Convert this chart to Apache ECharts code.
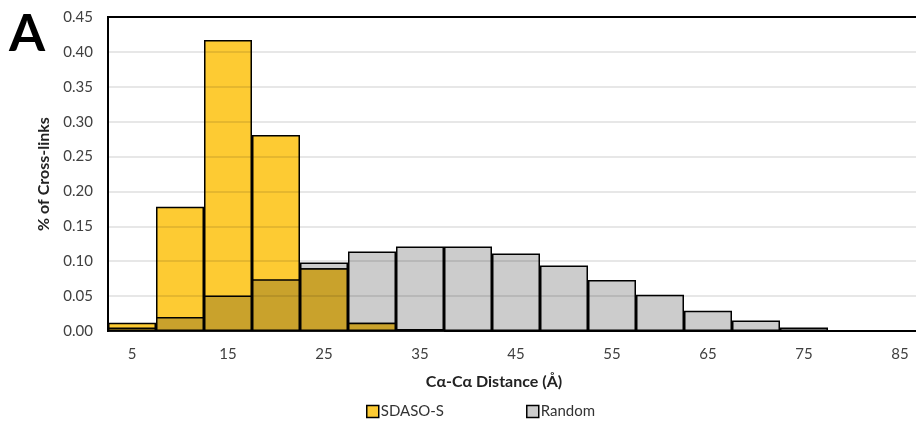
<!DOCTYPE html>
<html><head><meta charset="utf-8">
<script src="https://cdn.jsdelivr.net/npm/echarts@6/dist/echarts.min.js"></script>
<style>html,body{margin:0;padding:0;background:#fff;overflow:hidden}#c{width:924px;height:425px}</style>
</head><body><div id="c"></div>
<script>
const categories = ['5','10','15','20','25','30','35','40','45','50','55','60','65','70','75','80','85'];
const sdaso = [0.012,0.178,0.417,0.281,0.090,0.012,0.003,0,0,0,0,0,0,0,0,0,0];
const random = [0.005,0.020,0.051,0.074,0.098,0.114,0.121,0.121,0.111,0.094,0.073,0.052,0.029,0.015,0.005,0.001,0.001];
const yTicks = ['0.00','0.05','0.10','0.15','0.20','0.25','0.30','0.35','0.40','0.45'];
const overlap = sdaso.map((v,i)=>Math.min(v, random[i]));
const FONT = 'Lato, "Open Sans", sans-serif';
const chart = echarts.init(document.getElementById('c'));
const barBase = {type:'bar', barGap:'-100%', barCategoryGap:0};
chart.setOption({
  animation:false,
  textStyle:{fontFamily:FONT},
  graphic:[{type:'text', left:9, top:8, style:{text:'A', font:'bold 52px '+FONT, fill:'#000'}}],
  grid:{left:108, top:17, right:0, bottom:94, show:true, borderColor:'#000', borderWidth:2, backgroundColor:'transparent'},
  legend:{top:399, left:361, itemGap:82, itemWidth:12, itemHeight:12, icon:'rect',
    textStyle:{fontFamily:FONT, fontSize:15, color:'#333', padding:[0,0,0,-3]},
    data:[{name:'SDASO-S', itemStyle:{color:'#FDCB33', borderColor:'#000', borderWidth:1.5}},
          {name:'Random', itemStyle:{color:'#CCCCCC', borderColor:'#000', borderWidth:1.5}}]},
  xAxis:{type:'category', data:categories, name:'Cα-Cα Distance (Å)', nameLocation:'middle', nameGap:43,
    nameTextStyle:{fontFamily:FONT, fontWeight:'bold', fontSize:16, color:'#222', padding:[0,0,0,-44]},
    axisLine:{lineStyle:{color:'#222', width:1.5}}, axisTick:{show:false},
    axisLabel:{interval:1, fontSize:15, color:'#404040', margin:16}},
  yAxis:{type:'value', min:0, max:0.45, interval:0.05, z:10,
    name:'% of Cross-links', nameLocation:'middle', nameGap:56,
    nameTextStyle:{fontFamily:FONT, fontWeight:'bold', fontSize:16, color:'#222'},
    axisLine:{show:true, lineStyle:{color:'#000', width:2}}, axisTick:{show:false},
    axisLabel:{fontSize:15, color:'#404040', margin:15, formatter:(v)=>yTicks[Math.round(v/0.05)]},
    splitLine:{lineStyle:{color:'rgba(0,0,0,0.13)', width:1.5}}},
  series:[
    Object.assign({}, barBase, {name:'Random', data:random, itemStyle:{color:'#CCCCCC', borderColor:'#000', borderWidth:1.5}}),
    Object.assign({}, barBase, {name:'SDASO-S', data:sdaso, itemStyle:{color:'#FDCB33', borderColor:'#000', borderWidth:1.5}}),
    Object.assign({}, barBase, {name:'overlap', data:overlap, itemStyle:{color:'#C9A22C', borderColor:'#000', borderWidth:1.5}})
  ]
});
</script></body></html>
